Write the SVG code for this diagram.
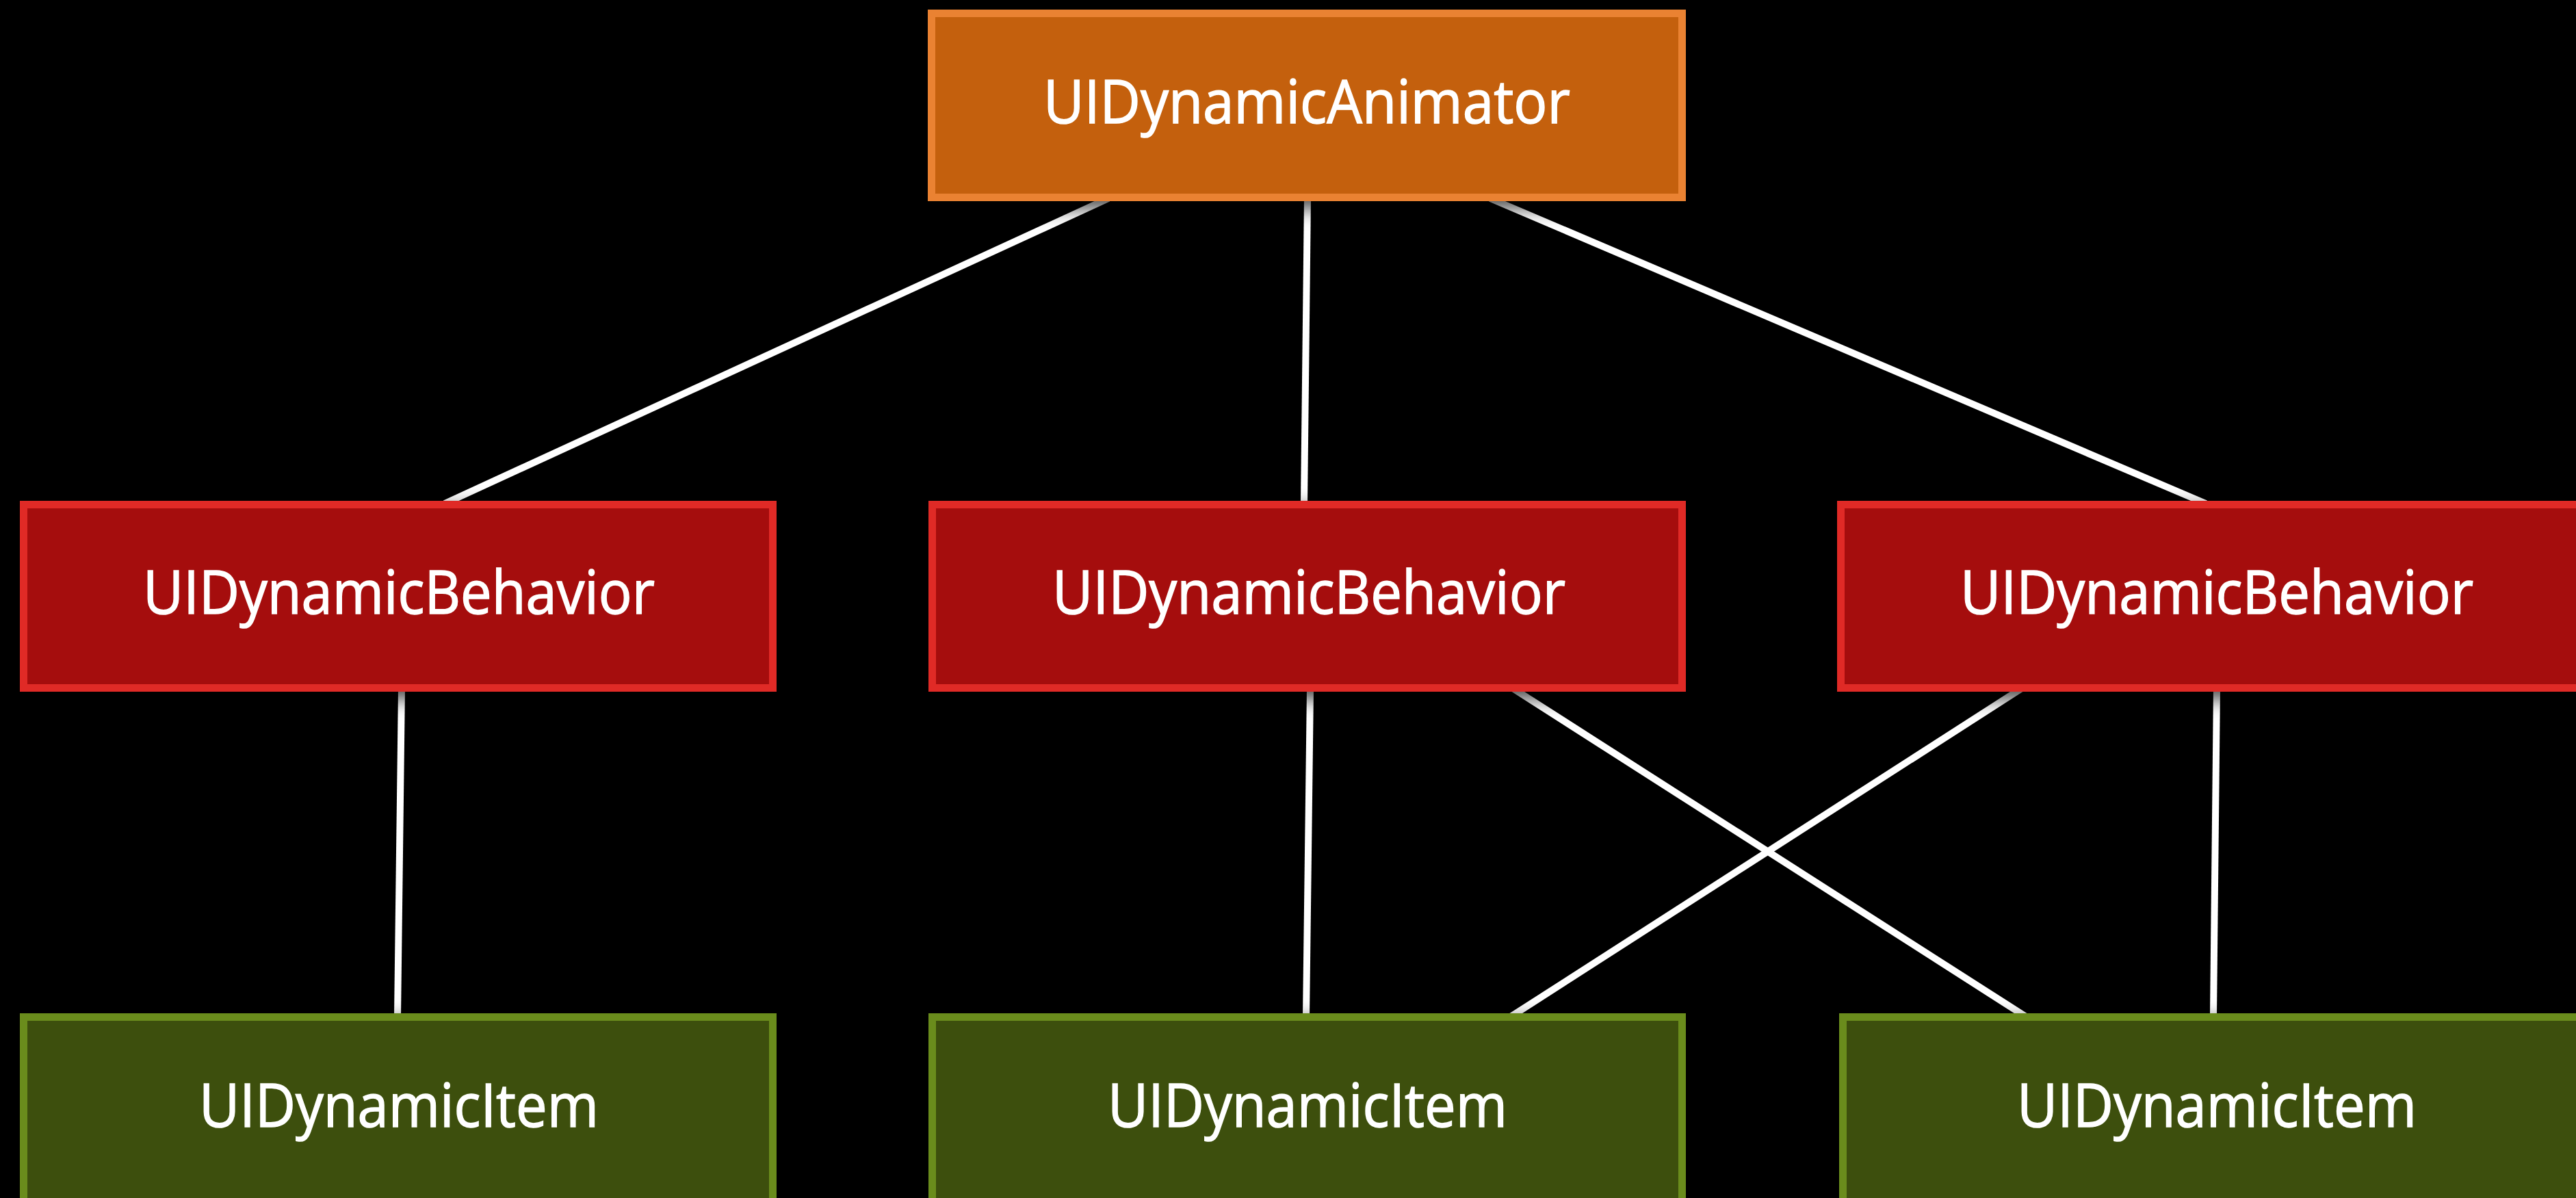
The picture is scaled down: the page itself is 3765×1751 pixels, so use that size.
<svg xmlns="http://www.w3.org/2000/svg" width="3765" height="1751" viewBox="0 0 3765 1751">
  <style>
    .box rect { stroke-width: 11; }
    .animator rect { fill: #C46108; stroke: #EA8230; }
    .behavior rect { fill: #A50E0A; stroke: #E02B27; }
    .item rect { fill: #3C500B; stroke: #6A8C1D; }
    .box text { font-family: "Open Sans", "Liberation Sans", sans-serif; font-size: 87px; fill: #FFFFFF; stroke: #FFFFFF; stroke-width: 1.5; text-anchor: middle; }
    #connectors line { stroke: #FFFFFF; stroke-width: 10; stroke-linecap: butt; }
  </style>
  <defs>
    <filter id="shadow" x="-10%" y="-20%" width="120%" height="150%">
      <feDropShadow dx="0" dy="10" stdDeviation="14" flood-color="#000000" flood-opacity="0.75"/>
    </filter>
  </defs>

  <rect width="3765" height="1751" fill="#000000"/>

  <!-- links between the animator, behaviors and items -->
  <g id="connectors">
    <line x1="1620" y1="290" x2="650" y2="736"/>
    <line x1="1911" y1="290" x2="1906" y2="736"/>
    <line x1="2178" y1="290" x2="3224" y2="736"/>
    <line x1="587" y1="1006" x2="581" y2="1486"/>
    <line x1="1915" y1="1006" x2="1909" y2="1486"/>
    <line x1="2211" y1="1006" x2="2961" y2="1486"/>
    <line x1="2955" y1="1006" x2="2208" y2="1486"/>
    <line x1="3240" y1="1006" x2="3235" y2="1486"/>
  </g>

  <g id="animator" class="box animator" filter="url(#shadow)">
    <rect x="1361.5" y="19.5" width="1097" height="269"/>
    <text x="1910" y="180" textLength="770" lengthAdjust="spacingAndGlyphs">UIDynamicAnimator</text>
  </g>

  <g id="behavior-1" class="box behavior" filter="url(#shadow)">
    <rect x="34.5" y="737.5" width="1095" height="268"/>
    <text x="583" y="897" textLength="748" lengthAdjust="spacingAndGlyphs">UIDynamicBehavior</text>
  </g>
  <g id="behavior-2" class="box behavior" filter="url(#shadow)">
    <rect x="1362.5" y="737.5" width="1096" height="268"/>
    <text x="1913" y="897" textLength="750" lengthAdjust="spacingAndGlyphs">UIDynamicBehavior</text>
  </g>
  <g id="behavior-3" class="box behavior" filter="url(#shadow)">
    <rect x="2690.5" y="737.5" width="1096" height="268"/>
    <text x="3240" y="897" textLength="750" lengthAdjust="spacingAndGlyphs">UIDynamicBehavior</text>
  </g>

  <g id="item-1" class="box item" filter="url(#shadow)">
    <rect x="34.5" y="1486.5" width="1095" height="290"/>
    <text x="583" y="1647" textLength="584" lengthAdjust="spacingAndGlyphs">UIDynamicItem</text>
  </g>
  <g id="item-2" class="box item" filter="url(#shadow)">
    <rect x="1362.5" y="1486.5" width="1096" height="290"/>
    <text x="1911" y="1647" textLength="584" lengthAdjust="spacingAndGlyphs">UIDynamicItem</text>
  </g>
  <g id="item-3" class="box item" filter="url(#shadow)">
    <rect x="2693.5" y="1486.5" width="1096" height="290"/>
    <text x="3240" y="1647" textLength="584" lengthAdjust="spacingAndGlyphs">UIDynamicItem</text>
  </g>
</svg>
